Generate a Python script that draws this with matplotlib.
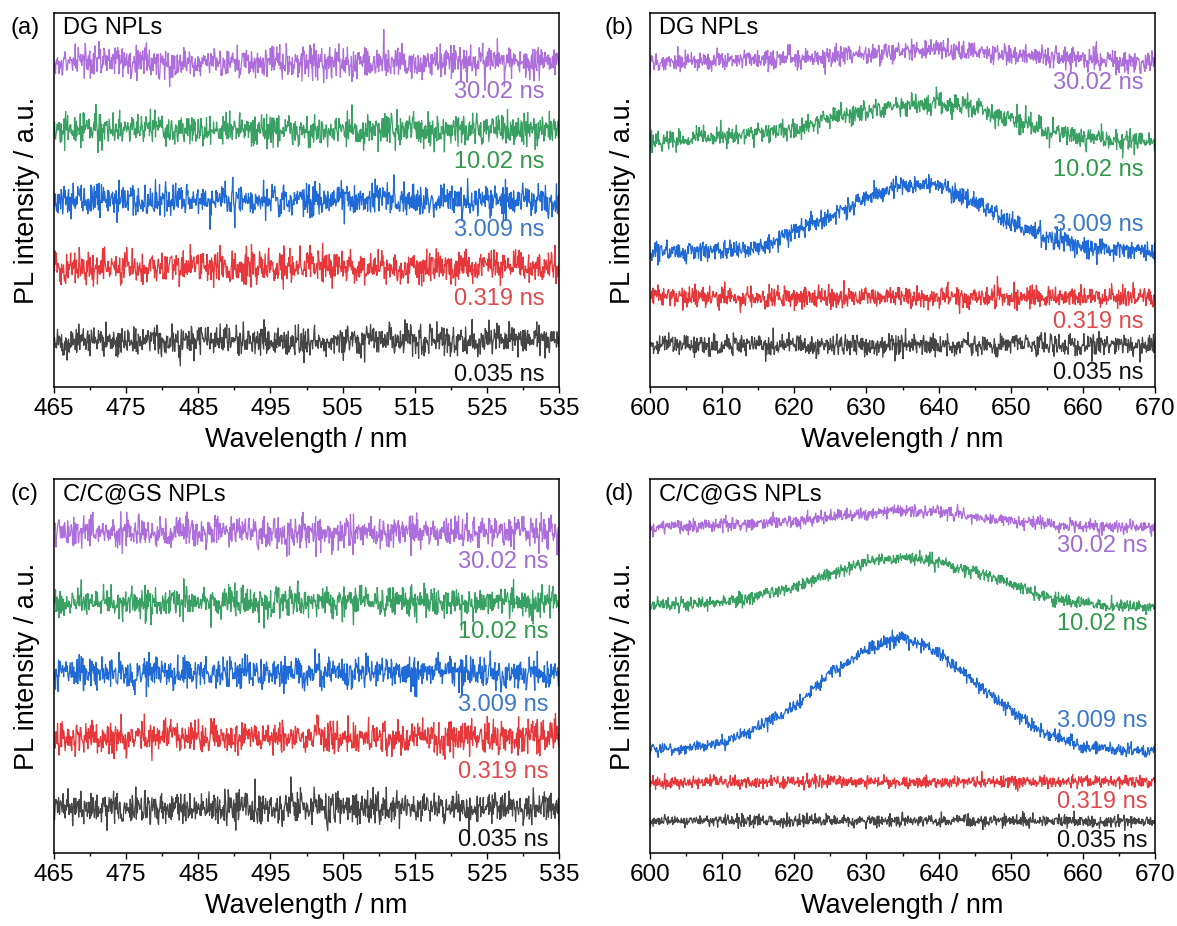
import numpy as np
import matplotlib
matplotlib.use("Agg")
import matplotlib.pyplot as plt
from matplotlib.ticker import FixedLocator

plt.rcParams["font.family"] = ["Liberation Sans", "DejaVu Sans"]

# delay times, bottom trace first
delays = ["0.035 ns", "0.319 ns", "3.009 ns", "10.02 ns", "30.02 ns"]
line_colors = ["#454545", "#e8373a", "#1f6ad6", "#38a062", "#ad6ddc"]
label_colors = ["#111111", "#e04a4c", "#3b78c8", "#2e9a4a", "#a06cd0"]

samples = ["DG NPLs", "DG NPLs", "C/C@GS NPLs", "C/C@GS NPLs"]
letters = ["(a)", "(b)", "(c)", "(d)"]

green_ticks = [465, 475, 485, 495, 505, 515, 525, 535]
red_ticks = [600, 610, 620, 630, 640, 650, 660, 670]

# green window: flat traces, one level each (a.u.)
green_levels_dg = [47, 120, 187, 257, 325]
green_levels_cc = [45, 116, 180, 251, 321]
green_noise_dg = [8.0, 8.0, 8.0, 8.0, 8.0]
green_noise_cc = [8.0, 8.0, 8.0, 8.0, 8.0]
green_labels_y_dg = [12, 88, 157, 225, 295]
green_labels_y_cc = [13, 81, 148, 221, 291]

# red window: levels read every 5 nm from 600 to 670 nm
red_knots = [600, 605, 610, 615, 620, 625, 630, 635, 640, 645, 650, 655, 660, 665, 670]
red_dg = [
    [42] * 15,
    [90] * 15,
    [135, 136, 137, 140, 156, 172, 189, 202, 203, 184, 165, 150, 140, 136, 135],
    [245, 247, 250, 253, 258, 269, 276, 283, 284, 280, 268, 257, 250, 247, 245],
    [325, 326, 327, 327, 328, 330, 333, 335, 337, 334, 332, 330, 328, 326, 325],
]
red_cc = [
    [32] * 15,
    [71] * 15,
    [104, 105, 110, 126, 146, 179, 204, 216, 201, 171, 142, 119, 107, 103, 102],
    [247, 249, 251, 257, 266, 279, 291, 296, 291, 281, 269, 256, 249, 247, 247],
    [326, 327, 328, 330, 332, 336, 339, 342, 341, 337, 332, 329, 327, 326, 326],
]
red_noise_dg = [5.3, 5.5, 5.2, 5.2, 5.0]
red_noise_cc = [3.0, 3.2, 3.3, 3.3, 3.3]
red_labels_y_dg = [14, 65, 162, 217, 304]
red_labels_y_cc = [12, 51, 132, 229, 307]

rng = np.random.default_rng(7)
wl_green = np.arange(465, 535.001, 0.07)
wl_red = np.arange(600, 670.001, 0.07)

fig = plt.figure(figsize=(11.77, 9.26), dpi=100)
W, H = 1177, 926
boxes = [(54, 13), (650, 13), (54, 479), (650, 479)]
aw, ah = 505, 374

for i, (x0, y0) in enumerate(boxes):
    ax = fig.add_axes([x0 / W, 1 - (y0 + ah) / H, aw / W, ah / H])
    green = i in (0, 2)
    if green:
        wl = wl_green
        levels = green_levels_dg if i == 0 else green_levels_cc
        noise = green_noise_dg if i == 0 else green_noise_cc
        labels_y = green_labels_y_dg if i == 0 else green_labels_y_cc
        curves = [np.full(wl.size, lv, dtype=float) for lv in levels]
        ticks = green_ticks
        label_x = 533.0 if i == 0 else 533.5
    else:
        wl = wl_red
        table = red_dg if i == 1 else red_cc
        noise = red_noise_dg if i == 1 else red_noise_cc
        labels_y = red_labels_y_dg if i == 1 else red_labels_y_cc
        curves = [np.interp(wl, red_knots, row) for row in table]
        ticks = red_ticks
        label_x = 668.4 if i == 1 else 669.0

    for k in range(5):
        y = curves[k] + rng.normal(0, noise[k], wl.size)
        ax.plot(wl, y, color=line_colors[k], lw=0.9)
        ax.text(label_x, labels_y[k], delays[k], color=label_colors[k],
                fontsize=17, ha="right", va="center")

    ax.set_xlim(ticks[0], ticks[-1])
    ax.set_ylim(0, ah)
    ax.xaxis.set_major_locator(FixedLocator(ticks))
    ax.xaxis.set_minor_locator(FixedLocator([t + 5 for t in ticks[:-1]]))
    ax.set_yticks([])
    ax.tick_params(axis="x", which="major", direction="out", length=4.5,
                   width=1, pad=3.5, labelsize=17.5)
    ax.tick_params(axis="x", which="minor", direction="out", length=2.5, width=1)
    for sp in ax.spines.values():
        sp.set_linewidth(1.1)
    ax.set_xlabel("Wavelength / nm", fontsize=19.5, labelpad=5)
    ax.set_ylabel("PL intensity / a.u.", fontsize=19.5, labelpad=10)
    ax.text(0.018, 0.988, samples[i], transform=ax.transAxes,
            fontsize=17, ha="left", va="top")

    lx = 10 if x0 < 100 else 605
    fig.text(lx / W, 1 - (y0 + 15) / H, letters[i], fontsize=17,
             ha="left", va="center")

fig.savefig("out.png", dpi=100)
